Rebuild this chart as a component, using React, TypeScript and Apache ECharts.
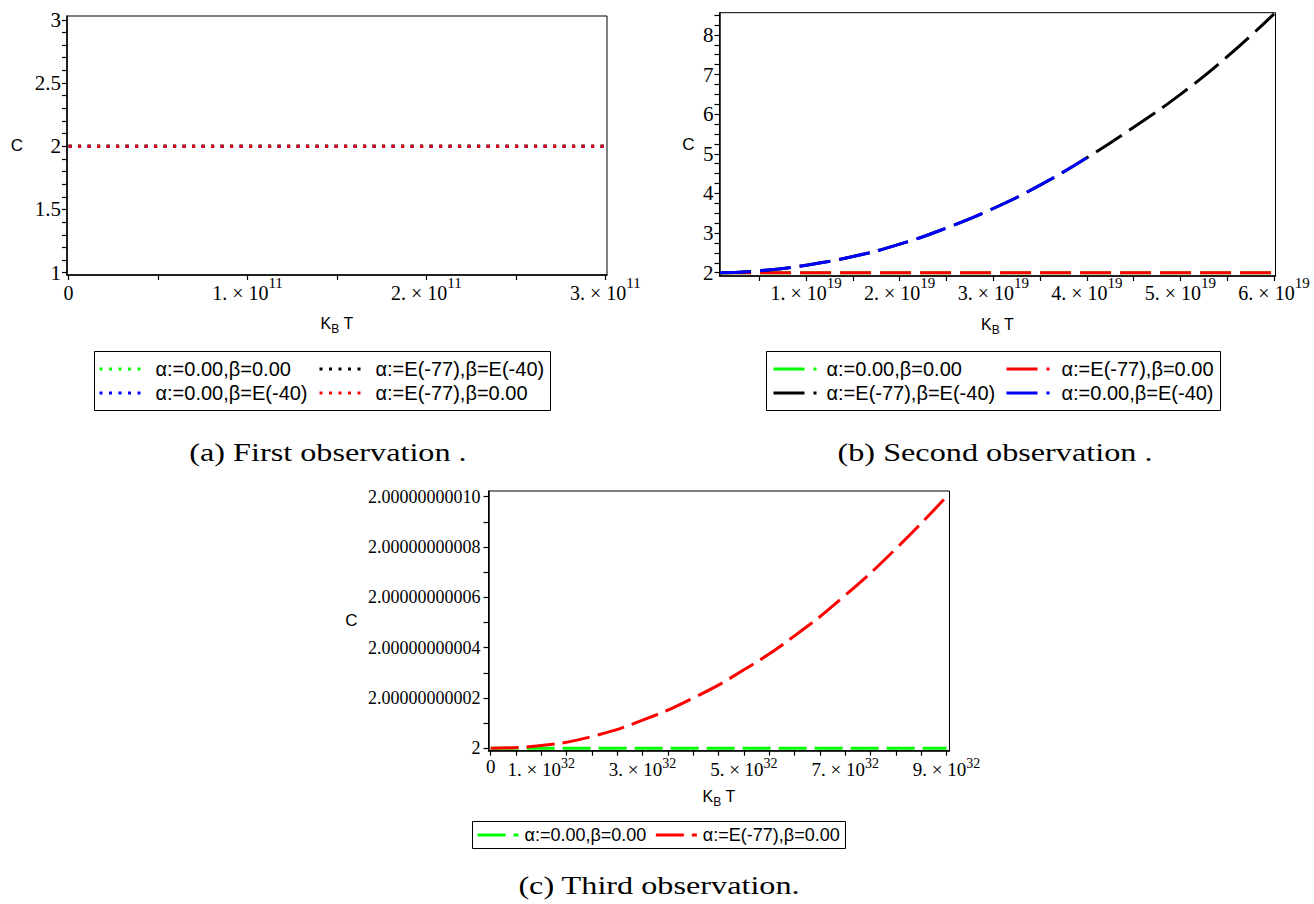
import { useEffect, useRef } from 'react';
import * as echarts from 'echarts';

// ---------- names ----------
const N_00_00 = 'α:=0.00,β=0.00';
const N_77_40 = 'α:=E(-77),β=E(-40)';
const N_00_40 = 'α:=0.00,β=E(-40)';
const N_77_00 = 'α:=E(-77),β=0.00';

// ---------- panel (a) ----------
const A_X = [0, 0.5e11, 1e11, 1.5e11, 2e11, 2.5e11, 3e11];
const A_GREEN = [2, 2, 2, 2, 2, 2, 2];
const A_BLACK = [2, 2, 2, 2, 2, 2, 2];
const A_BLUE = [2, 2, 2, 2, 2, 2, 2];
const A_RED = [2, 2, 2, 2, 2, 2, 2];
const A_X_TICKS = [0, 0.5e11, 1e11, 1.5e11, 2e11, 2.5e11, 3e11];
const A_X_LABELS = [0, 1e11, 2e11, 3e11];
const A_Y_TICKS = [1, 1.1, 1.2, 1.3, 1.4, 1.5, 1.6, 1.7, 1.8, 1.9, 2, 2.1, 2.2, 2.3, 2.4, 2.5, 2.6, 2.7, 2.8, 2.9, 3];
const A_Y_LABELS = [1, 1.5, 2, 2.5, 3];

// ---------- panel (b) ----------
const B_X = [0.08e19, 0.5e19, 1e19, 1.5e19, 2e19, 2.5e19, 3e19, 3.5e19, 4e19, 4.5e19, 5e19, 5.5e19, 6e19];
const B_BLACK = [2.0, 2.05, 2.19, 2.41, 2.72, 3.13, 3.62, 4.21, 4.9, 5.67, 6.5, 7.45, 8.53];
const B_BLUE_X = [0.08e19, 0.5e19, 1e19, 1.5e19, 2e19, 2.5e19, 3e19, 3.5e19, 4e19];
const B_BLUE = [2.0, 2.05, 2.19, 2.41, 2.72, 3.13, 3.62, 4.21, 4.9];
const B_FLAT_X = [0.08e19, 6e19];
const B_GREEN = [2, 2];
const B_RED = [2, 2];
const B_X_TICKS = [0.5e19, 1e19, 1.5e19, 2e19, 2.5e19, 3e19, 3.5e19, 4e19, 4.5e19, 5e19, 5.5e19, 6e19];
const B_X_LABELS = [1e19, 2e19, 3e19, 4e19, 5e19, 6e19];
const B_Y_TICKS = [2, 2.25, 2.5, 2.75, 3, 3.25, 3.5, 3.75, 4, 4.25, 4.5, 4.75, 5, 5.25, 5.5, 5.75, 6, 6.25, 6.5, 6.75, 7, 7.25, 7.5, 7.75, 8, 8.25, 8.5];
const B_Y_LABELS = [2, 3, 4, 5, 6, 7, 8];

// ---------- panel (c) ----------
const C_X = [0, 1e32, 2e32, 3e32, 4e32, 5e32, 6e32, 7e32, 8e32, 9e32];
const C_RED = [2, 2.0000000000011, 2.0000000000047, 2.0000000000112, 2.00000000002, 2.0000000000312, 2.0000000000447, 2.0000000000608, 2.0000000000793, 2.0000000001];
const C_FLAT_X = [0, 9e32];
const C_GREEN = [2, 2];
const C_X_TICKS = [0, 0.5e32, 1e32, 1.5e32, 2e32, 2.5e32, 3e32, 3.5e32, 4e32, 4.5e32, 5e32, 5.5e32, 6e32, 6.5e32, 7e32, 7.5e32, 8e32, 8.5e32, 9e32];
const C_X_LABELS = [0, 1e32, 3e32, 5e32, 7e32, 9e32];
const C_Y_TICKS = [2, 2.00000000001, 2.00000000002, 2.00000000003, 2.00000000004, 2.00000000005, 2.00000000006, 2.00000000007, 2.00000000008, 2.00000000009, 2.0000000001];
const C_Y_LABELS = [2, 2.00000000002, 2.00000000004, 2.00000000006, 2.00000000008, 2.0000000001];

const GREEN = '#00ff00';
const RED = '#ff0000';
const BLUE = '#0000ff';
const BLACK = '#000000';

const SERIF = 'Liberation Serif';
const SANS = 'Liberation Sans';

const pairs = (xs: number[], ys: number[]) => xs.map((x, i) => [x, ys[i]]);

const sci = (exp: number) => (v: number) => {
  if (Math.abs(v) < 10 ** exp * 1e-6) return '{z|0}';
  const m = Math.round(v / 10 ** exp);
  return `{b|${m}. × 10}{s|${exp}}`;
};

const xRich = (bSize: number, sSize: number, supPad: number, zLH: number) => ({
  b: { fontFamily: SERIF, fontSize: bSize, lineHeight: 20, color: '#000' },
  s: { fontFamily: SERIF, fontSize: sSize, lineHeight: 13, padding: [0, 0, supPad, 0], color: '#000' },
  z: { fontFamily: SERIF, fontSize: bSize, lineHeight: zLH, color: '#000' },
});

const kbtName = '{k|K}{b|B}{t| T}';
const kbtStyle = {
  align: 'center',
  verticalAlign: 'middle',
  rich: {
    k: { fontFamily: SANS, fontSize: 16, lineHeight: 16, color: '#000' },
    b: { fontFamily: SANS, fontSize: 12, lineHeight: 12, padding: [12, 0, 0, 0], color: '#000' },
    t: { fontFamily: SANS, fontSize: 16, lineHeight: 16, color: '#000' },
  },
};

const axisCommon = {
  type: 'value',
  axisLine: { show: true, onZero: false, lineStyle: { color: '#000', width: 1.5 } },
  axisTick: { show: true, inside: false, length: 5, lineStyle: { color: '#000', width: 1.2 } },
  splitLine: { show: false },
  minorTick: { show: false },
};

const cName = (gap: number) => ({
  name: 'C',
  nameLocation: 'middle',
  nameRotate: 0,
  nameGap: gap,
  nameTextStyle: { fontFamily: SANS, fontSize: 17, color: '#000', align: 'center', verticalAlign: 'middle' },
});

const lineSeries = (name: string, data: number[][], color: string, dash: number[], xi: number, smooth = false) => ({
  type: 'line',
  name,
  xAxisIndex: xi,
  yAxisIndex: xi,
  data,
  symbol: 'none',
  smooth,
  silent: true,
  color,
  lineStyle: { color, width: 3, type: dash, cap: 'butt' },
});

const DOT = [3, 6.5];
const DASH_B = [31, 9];
const DASH_C = [28, 8];

const stripName = (n: string) => n.split('|')[1];

const legendBase = (size: number, iw: number, pad: number) => ({
  orient: 'vertical',
  padding: 0,
  itemWidth: iw,
  itemHeight: 20,
  itemGap: 4,
  selectedMode: false,
  formatter: stripName,
  lineStyle: { width: 3 },
  itemStyle: { opacity: 0, borderWidth: 0 },
  textStyle: { fontFamily: SANS, fontSize: size, lineHeight: 20, color: '#000', padding: [0, 0, 0, pad] },
});

export default function App() {
  const ref = useRef<HTMLDivElement>(null);
  useEffect(() => {
    if (!ref.current) return;
    const chart = echarts.init(ref.current, undefined, { renderer: 'svg' });
    const option: any = {
      animation: false,
      backgroundColor: '#ffffff',
      grid: [
        { left: 67, top: 16, width: 540, height: 259, show: true, borderColor: '#000', borderWidth: 1, containLabel: false },
        { left: 719.5, top: 12.7, width: 556, height: 263.3, show: true, borderColor: '#000', borderWidth: 1, containLabel: false },
        { left: 488.5, top: 491, width: 461, height: 259.7, show: true, borderColor: '#000', borderWidth: 1, containLabel: false },
      ],
      xAxis: [
        {
          ...axisCommon,
          gridIndex: 0,
          min: -0.009e11,
          max: 3.0095e11,
          axisTick: { ...axisCommon.axisTick, customValues: A_X_TICKS },
          axisLabel: { customValues: A_X_LABELS, margin: 8, formatter: sci(11), rich: xRich(20, 15, 20, 19) },
          name: kbtName,
          nameLocation: 'middle',
          nameGap: 46,
          nameTextStyle: kbtStyle,
        },
        {
          ...axisCommon,
          gridIndex: 1,
          min: 0.074e19,
          max: 6.016e19,
          axisTick: { ...axisCommon.axisTick, customValues: B_X_TICKS },
          axisLabel: { customValues: B_X_LABELS, margin: 7, formatter: sci(19), rich: xRich(20, 15, 20, 19) },
          name: kbtName,
          nameLocation: 'middle',
          nameGap: 48,
          nameTextStyle: kbtStyle,
        },
        {
          ...axisCommon,
          gridIndex: 2,
          min: -0.043e32,
          max: 9.06e32,
          axisTick: { ...axisCommon.axisTick, customValues: C_X_TICKS },
          axisLabel: { customValues: C_X_LABELS, margin: 9, formatter: sci(32), rich: xRich(19, 14, 13, 13) },
          name: kbtName,
          nameLocation: 'middle',
          nameGap: 43,
          nameTextStyle: kbtStyle,
        },
      ],
      yAxis: [
        {
          ...axisCommon,
          gridIndex: 0,
          min: 0.982,
          max: 3.03,
          axisTick: { ...axisCommon.axisTick, customValues: A_Y_TICKS },
          axisLabel: { customValues: A_Y_LABELS, margin: 6, fontFamily: SERIF, fontSize: 21, color: '#000', formatter: (v: number) => String(v) },
          ...cName(50),
        },
        {
          ...axisCommon,
          gridIndex: 1,
          min: 1.917,
          max: 8.56,
          axisTick: { ...axisCommon.axisTick, customValues: B_Y_TICKS },
          axisLabel: { customValues: B_Y_LABELS, margin: 6, fontFamily: SERIF, fontSize: 21, color: '#000', formatter: (v: number) => String(v) },
          ...cName(31),
        },
        {
          ...axisCommon,
          gridIndex: 2,
          min: 1.99999999999905,
          max: 2.00000000010227,
          axisTick: { ...axisCommon.axisTick, customValues: C_Y_TICKS },
          axisLabel: {
            customValues: C_Y_LABELS,
            margin: 8,
            fontFamily: SERIF,
            fontSize: 18,
            color: '#000',
            formatter: (v: number) => (Math.abs(v - 2) < 1e-13 ? '2' : v.toFixed(11)),
          },
          ...cName(137),
        },
      ],
      legend: [
        { ...legendBase(20, 43, 8), left: 98, top: 359, data: ['a|' + N_00_00, 'a|' + N_00_40] },
        { ...legendBase(20, 43, 8), left: 318, top: 359, data: ['a|' + N_77_40, 'a|' + N_77_00] },
        { ...legendBase(20, 43, 5), left: 772, top: 359, data: ['b|' + N_00_00, 'b|' + N_77_40] },
        { ...legendBase(20, 43, 7), left: 1005, top: 359, data: ['b|' + N_77_00, 'b|' + N_00_40] },
        { ...legendBase(18, 41, 1), orient: 'horizontal', itemGap: 8, left: 476, top: 825, data: ['c|' + N_00_00, 'c|' + N_77_00] },
      ],
      series: [
        lineSeries('a|' + N_00_00, pairs(A_X, A_GREEN), GREEN, DOT, 0),
        lineSeries('a|' + N_77_40, pairs(A_X, A_BLACK), BLACK, DOT, 0),
        lineSeries('a|' + N_00_40, pairs(A_X, A_BLUE), BLUE, DOT, 0),
        lineSeries('a|' + N_77_00, pairs(A_X, A_RED), RED, DOT, 0),

        lineSeries('b|' + N_00_00, pairs(B_FLAT_X, B_GREEN), GREEN, DASH_B, 1),
        lineSeries('b|' + N_77_00, pairs(B_FLAT_X, B_RED), RED, DASH_B, 1),
        lineSeries('b|' + N_77_40, pairs(B_X, B_BLACK), BLACK, DASH_B, 1, true),
        lineSeries('b|' + N_00_40, pairs(B_BLUE_X, B_BLUE), BLUE, DASH_B, 1, true),

        lineSeries('c|' + N_00_00, pairs(C_FLAT_X, C_GREEN), GREEN, DASH_C, 2),
        lineSeries('c|' + N_77_00, pairs(C_X, C_RED), RED, DASH_C, 2, true),
      ],
      graphic: [
        { type: 'rect', shape: { x: 94.5, y: 351.5, width: 456, height: 59 }, style: { fill: 'none', stroke: '#000', lineWidth: 1 } },
        { type: 'rect', shape: { x: 766.5, y: 351.5, width: 454, height: 59 }, style: { fill: 'none', stroke: '#000', lineWidth: 1 } },
        { type: 'rect', shape: { x: 472.5, y: 821.5, width: 373, height: 27 }, style: { fill: 'none', stroke: '#000', lineWidth: 1 } },
        { type: 'text', x: 328, y: 452, scaleX: 1.24, style: { text: '(a) First observation .', fontFamily: SERIF, fontSize: 26, fill: '#000', align: 'center', verticalAlign: 'middle' } },
        { type: 'text', x: 995, y: 452, scaleX: 1.24, style: { text: '(b) Second observation .', fontFamily: SERIF, fontSize: 26, fill: '#000', align: 'center', verticalAlign: 'middle' } },
        { type: 'text', x: 659, y: 885, scaleX: 1.24, style: { text: '(c) Third observation.', fontFamily: SERIF, fontSize: 26, fill: '#000', align: 'center', verticalAlign: 'middle' } },
      ],
    };
    chart.setOption(option);
    return () => chart.dispose();
  }, []);
  return <div ref={ref} style={{ position: 'fixed', left: 0, top: 0, width: 1314, height: 904 }} />;
}
